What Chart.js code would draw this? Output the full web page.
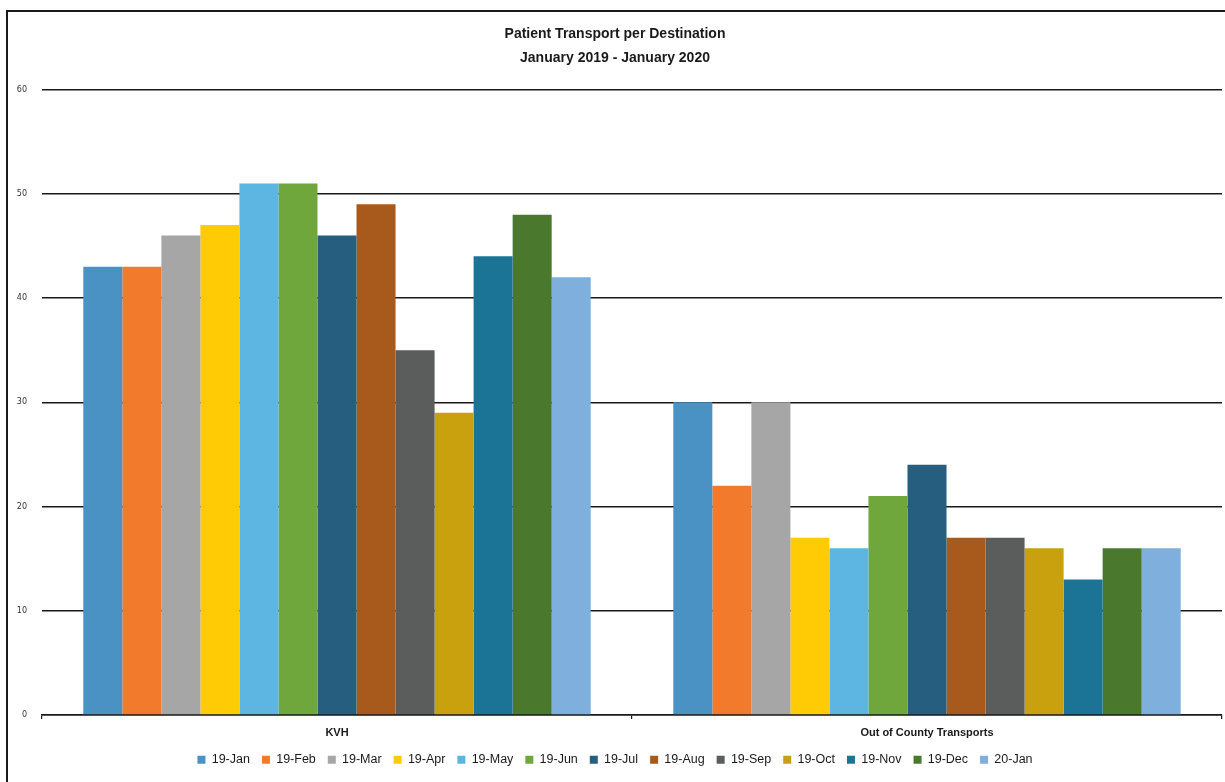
<!DOCTYPE html>
<html>
<head>
<meta charset="utf-8">
<script src="https://cdn.jsdelivr.net/npm/chart.js@4.4.1/dist/chart.umd.min.js"></script>
<style>
  html, body { margin: 0; padding: 0; background: #fff; overflow: hidden; }
  #frame { position: absolute; left: 6px; top: 10px; width: 1300px; height: 900px; border: 2px solid #1a1a1a; box-sizing: border-box; }
  #wrap { position: absolute; left: 0; top: 0; width: 1225px; height: 782px; }
</style>
</head>
<body>
<div id="frame"></div>
<div id="wrap"><canvas id="chart" width="1225" height="782"></canvas></div>
<script>
// Destinations on the category axis
const destinations = ['KVH', 'Out of County Transports'];

// Month series (legend order)
const months = ['19-Jan', '19-Feb', '19-Mar', '19-Apr', '19-May', '19-Jun', '19-Jul',
                '19-Aug', '19-Sep', '19-Oct', '19-Nov', '19-Dec', '20-Jan'];

// Transports to KVH per month
const kvhTransports = [43, 43, 46, 47, 51, 51, 46, 49, 35, 29, 44, 48, 42];

// Out of county transports per month
const outOfCountyTransports = [30, 22, 30, 17, 16, 21, 24, 17, 17, 16, 13, 16, 16];

// Y axis tick values
const yTicks = [0, 10, 20, 30, 40, 50, 60];

const monthColors = ['#4A92C4', '#F27A2C', '#A6A6A6', '#FFCB05', '#5DB6E2', '#6FA73C', '#255E7E',
                     '#A85A1C', '#5A5D5C', '#C9A00E', '#1B7495', '#4A792E', '#7FAFDC'];

const datasets = months.map((m, i) => ({
  label: m,
  data: [kvhTransports[i], outOfCountyTransports[i]],
  backgroundColor: monthColors[i],
  borderWidth: 0,
  barPercentage: 1.0,
  categoryPercentage: 0.86
}));

new Chart(document.getElementById('chart'), {
  type: 'bar',
  data: { labels: destinations, datasets },
  options: {
    responsive: false,
    animation: false,
    layout: { padding: { left: 8, right: 3, top: 22, bottom: 6 } },
    plugins: {
      title: {
        display: true,
        text: ['Patient Transport per Destination', 'January 2019 - January 2020'],
        color: '#1a1a1a',
        font: { family: 'Liberation Sans', size: 14, weight: 'bold', lineHeight: 1.7 },
        padding: { top: 0, bottom: 20 }
      },
      legend: {
        position: 'bottom',
        labels: {
          color: '#1a1a1a',
          font: { family: 'Liberation Sans', size: 12.5 },
          boxWidth: 8,
          boxHeight: 8,
          padding: 12
        }
      },
      tooltip: { enabled: false }
    },
    scales: {
      x: {
        afterFit: (scale) => { scale.height = 26.5; },
        grid: { drawOnChartArea: false, drawTicks: true, tickLength: 4, color: '#1a1a1a', lineWidth: 1.2 },
        border: { display: true, color: '#1a1a1a', width: 1.5 },
        ticks: {
          color: '#1a1a1a',
          font: { family: 'Liberation Sans', size: 11, weight: 'bold' },
          padding: 7
        }
      },
      y: {
        min: 0,
        max: 60,
        afterBuildTicks: (scale) => { scale.ticks = yTicks.map(v => ({ value: v })); },
        afterFit: (scale) => { scale.width = 34; },
        grid: { color: '#1a1a1a', lineWidth: 1.4, drawTicks: false },
        border: { display: false },
        ticks: {
          color: '#333',
          font: { family: 'DejaVu Sans', size: 8 },
          padding: 15
        }
      }
    }
  }
});
</script>
</body>
</html>
